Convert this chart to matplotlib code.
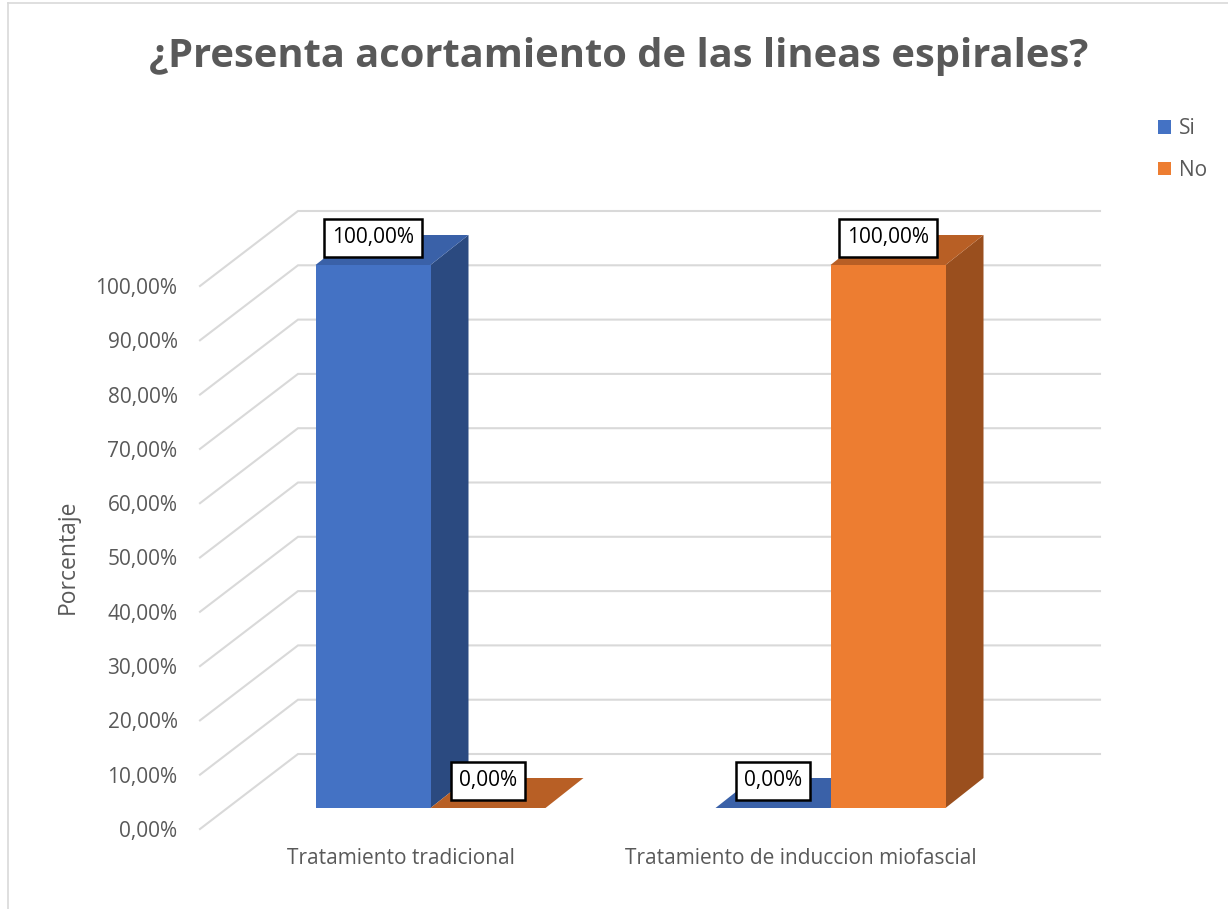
import matplotlib.pyplot as plt
from matplotlib.patches import Polygon, Patch

plt.rcParams['font.family'] = ['Open Sans', 'DejaVu Sans']

# data
categories = ['Tratamiento tradicional', 'Tratamiento de induccion miofascial']
series = ['Si', 'No']
si_values = [100.0, 0.0]
no_values = [0.0, 100.0]
ytick_values = list(range(0, 101, 10))

front_cols = ['#4472C4', '#ED7D31']
top_cols = ['#3A61A8', '#B85F25']
side_cols = ['#2B4A80', '#9A4F1E']
grey = '#595959'

W, H = 1228, 909
fig = plt.figure(figsize=(W / 100, H / 100), dpi=100)

# axes placed in pixel terms; x in category units (400 px each), y in % (5.43 px each)
px_per_cat = 400.0
px_per_pct = 5.43
x_ref, y_ref = 430.5, 808.0   # pixel of category 0 centre / bar base
left_px, right_px, top_px, bottom_px = 190, 1110, 200, 835
ax = fig.add_axes([left_px / W, 1 - bottom_px / H,
                   (right_px - left_px) / W, (bottom_px - top_px) / H])
ax.set_xlim((left_px - x_ref) / px_per_cat, (right_px - x_ref) / px_per_cat)
ax.set_ylim((y_ref - bottom_px) / px_per_pct, (y_ref - top_px) / px_per_pct)
for s in ax.spines.values():
    s.set_visible(False)

bar_w = 115 / px_per_cat
ddx = 38 / px_per_cat
ddy = 30 / px_per_pct
front_shift = -21 / px_per_pct      # front wall (axis labels) below bar base
back_shift = 54 / px_per_pct        # back wall above bar base
wall_front_x = (200 - x_ref) / px_per_cat
wall_back_x = (298 - x_ref) / px_per_cat
wall_end_x = (1100 - x_ref) / px_per_cat

# gridlines: diagonal side wall + horizontal back wall
for v in ytick_values:
    ax.plot([wall_front_x, wall_back_x, wall_end_x],
            [v + front_shift, v + back_shift, v + back_shift],
            color='#D9D9D9', lw=1.5, zorder=1, solid_joinstyle='miter')

# bars drawn as 3D boxes
for s_idx, vals in enumerate([si_values, no_values]):
    for i, v in enumerate(vals):
        x0 = i - bar_w + s_idx * bar_w
        x1 = x0 + bar_w
        if v > 0:
            ax.add_patch(Polygon([(x1, 0), (x1, v), (x1 + ddx, v + ddy), (x1 + ddx, ddy)],
                                 closed=True, facecolor=side_cols[s_idx], edgecolor='none', zorder=3))
            ax.add_patch(Polygon([(x0, 0), (x1, 0), (x1, v), (x0, v)],
                                 closed=True, facecolor=front_cols[s_idx], edgecolor='none', zorder=3))
        ax.add_patch(Polygon([(x0, v), (x1, v), (x1 + ddx, v + ddy), (x0 + ddx, v + ddy)],
                             closed=True, facecolor=top_cols[s_idx], edgecolor='none', zorder=3))
        ax.text((x0 + x1) / 2, v + 5, f'{v:.2f}'.replace('.', ',') + '%',
                ha='center', va='center', fontsize=15, color='black', zorder=5,
                bbox=dict(boxstyle='square,pad=0.4', facecolor='white', edgecolor='black', lw=1.8))

ax.set_yticks([v + front_shift for v in ytick_values])
ax.set_yticklabels([f'{v},00%' for v in ytick_values], fontsize=15, color=grey)
ax.set_xticks([i - 0.075 for i in range(len(categories))])
ax.set_xticklabels(categories, fontsize=15, color=grey)
ax.tick_params(axis='y', length=0, pad=9)
ax.tick_params(axis='x', length=0, pad=9)

fig.text(68 / W, 1 - 557 / H, 'Porcentaje', rotation=90, ha='center', va='center',
         fontsize=16.5, color=grey)
fig.text(619 / W, 1 - 57 / H, '¿Presenta acortamiento de las lineas espirales?',
         ha='center', va='center', fontsize=28.7, fontweight='bold', color=grey)

handles = [Patch(facecolor=front_cols[k], edgecolor='none') for k in range(2)]
leg = fig.legend(handles, series, loc='upper left', bbox_to_anchor=(1150 / W, 1 - 110 / H),
                 frameon=False, fontsize=15, handlelength=0.6, handleheight=0.6,
                 handletextpad=0.4, labelspacing=1.0, borderaxespad=0)
for t in leg.get_texts():
    t.set_color(grey)

# chart frame remnants (left and top border)
fig.add_artist(plt.Line2D([8 / W, 8 / W], [0, 1 - 3 / H], color='#D9D9D9', lw=1.2))
fig.add_artist(plt.Line2D([8 / W, 1], [1 - 3 / H, 1 - 3 / H], color='#D9D9D9', lw=1.2))

fig.savefig('out.png', dpi=100)
